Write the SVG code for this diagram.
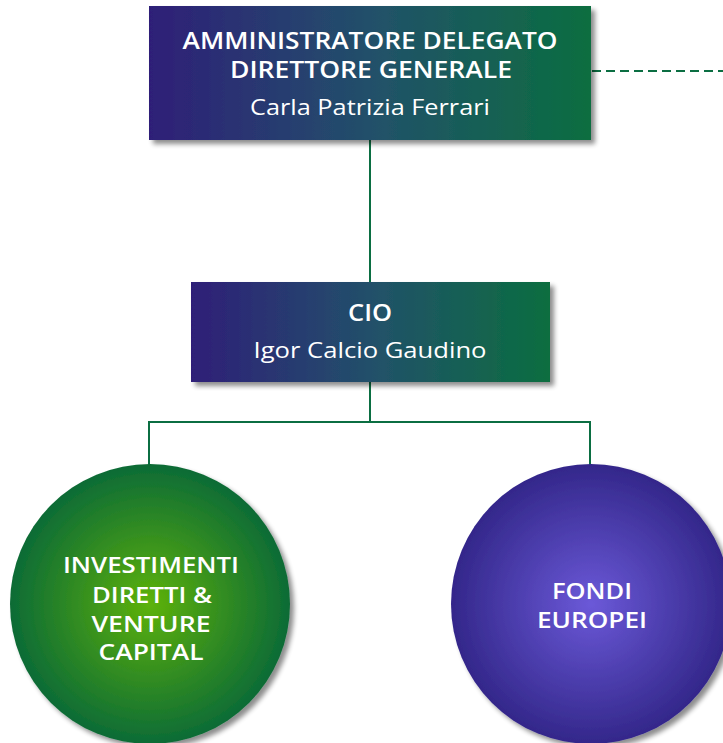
<svg xmlns="http://www.w3.org/2000/svg" width="723" height="743" viewBox="0 0 723 743">
<defs>
<linearGradient id="boxGrad" x1="0" y1="0" x2="1" y2="0">
<stop offset="0" stop-color="#2f1f78"/>
<stop offset="0.5" stop-color="#22506a"/>
<stop offset="1" stop-color="#0b6e40"/>
</linearGradient>
<radialGradient id="greenGrad" cx="0.5" cy="0.5" r="0.5">
<stop offset="0" stop-color="#5db20a"/>
<stop offset="1" stop-color="#0c6b36"/>
</radialGradient>
<radialGradient id="purpleGrad" cx="0.5" cy="0.5" r="0.5">
<stop offset="0" stop-color="#6b59d8"/>
<stop offset="1" stop-color="#33278a"/>
</radialGradient>
<filter id="shadow" x="-10%" y="-10%" width="125%" height="130%">
<feGaussianBlur in="SourceAlpha" stdDeviation="2.5"/>
<feOffset dx="4" dy="4" result="b"/>
<feComponentTransfer><feFuncA type="linear" slope="0.45"/></feComponentTransfer>
<feMerge><feMergeNode/><feMergeNode in="SourceGraphic"/></feMerge>
</filter>
</defs>
<style>
.conn{stroke:#0b6e42;stroke-width:2;fill:none}
.dash{stroke:#0b6e42;stroke-width:2;fill:none;stroke-dasharray:9 5}
.t{font-family:"Open Sans","Noto Sans","Liberation Sans",sans-serif;fill:#ffffff;text-anchor:middle}
.b{font-weight:600}
.r{font-weight:400}
</style>
<g id="connectors">
<line class="conn" x1="370" y1="140" x2="370" y2="282"/>
<polyline class="conn" points="370,382 370,422 149,422 149,465"/>
<polyline class="conn" points="370,422 590,422 590,465"/>
<line class="dash" x1="592" y1="71" x2="723" y2="71"/>
</g>
<g id="ad">
<rect x="149" y="6" width="442" height="134" fill="url(#boxGrad)" filter="url(#shadow)"/>
<text class="t b" x="370" y="49" font-size="23" textLength="375" lengthAdjust="spacingAndGlyphs">AMMINISTRATORE DELEGATO</text>
<text class="t b" x="371" y="78" font-size="23" textLength="282" lengthAdjust="spacingAndGlyphs">DIRETTORE GENERALE</text>
<text class="t r" x="370" y="115" font-size="22" textLength="240" lengthAdjust="spacingAndGlyphs">Carla Patrizia Ferrari</text>
</g>
<g id="cio">
<rect x="191" y="282" width="359" height="100" fill="url(#boxGrad)" filter="url(#shadow)"/>
<text class="t b" x="370" y="321" font-size="23" textLength="44" lengthAdjust="spacingAndGlyphs">CIO</text>
<text class="t r" x="370" y="358" font-size="22" textLength="233" lengthAdjust="spacingAndGlyphs">Igor Calcio Gaudino</text>
</g>
<g id="investimenti">
<circle cx="150" cy="604" r="140" fill="url(#greenGrad)" filter="url(#shadow)"/>
<text class="t b" x="151" y="573" font-size="22" textLength="176" lengthAdjust="spacingAndGlyphs">INVESTIMENTI</text>
<text class="t b" x="152" y="603" font-size="22" textLength="120" lengthAdjust="spacingAndGlyphs">DIRETTI &amp;</text>
<text class="t b" x="151" y="632" font-size="22" textLength="119" lengthAdjust="spacingAndGlyphs">VENTURE</text>
<text class="t b" x="151" y="660" font-size="22" textLength="105" lengthAdjust="spacingAndGlyphs">CAPITAL</text>
</g>
<g id="fondi">
<circle cx="591" cy="604" r="140" fill="url(#purpleGrad)" filter="url(#shadow)"/>
<text class="t b" x="592" y="599" font-size="22" textLength="80" lengthAdjust="spacingAndGlyphs">FONDI</text>
<text class="t b" x="592" y="628" font-size="22" textLength="110" lengthAdjust="spacingAndGlyphs">EUROPEI</text>
</g>
</svg>
